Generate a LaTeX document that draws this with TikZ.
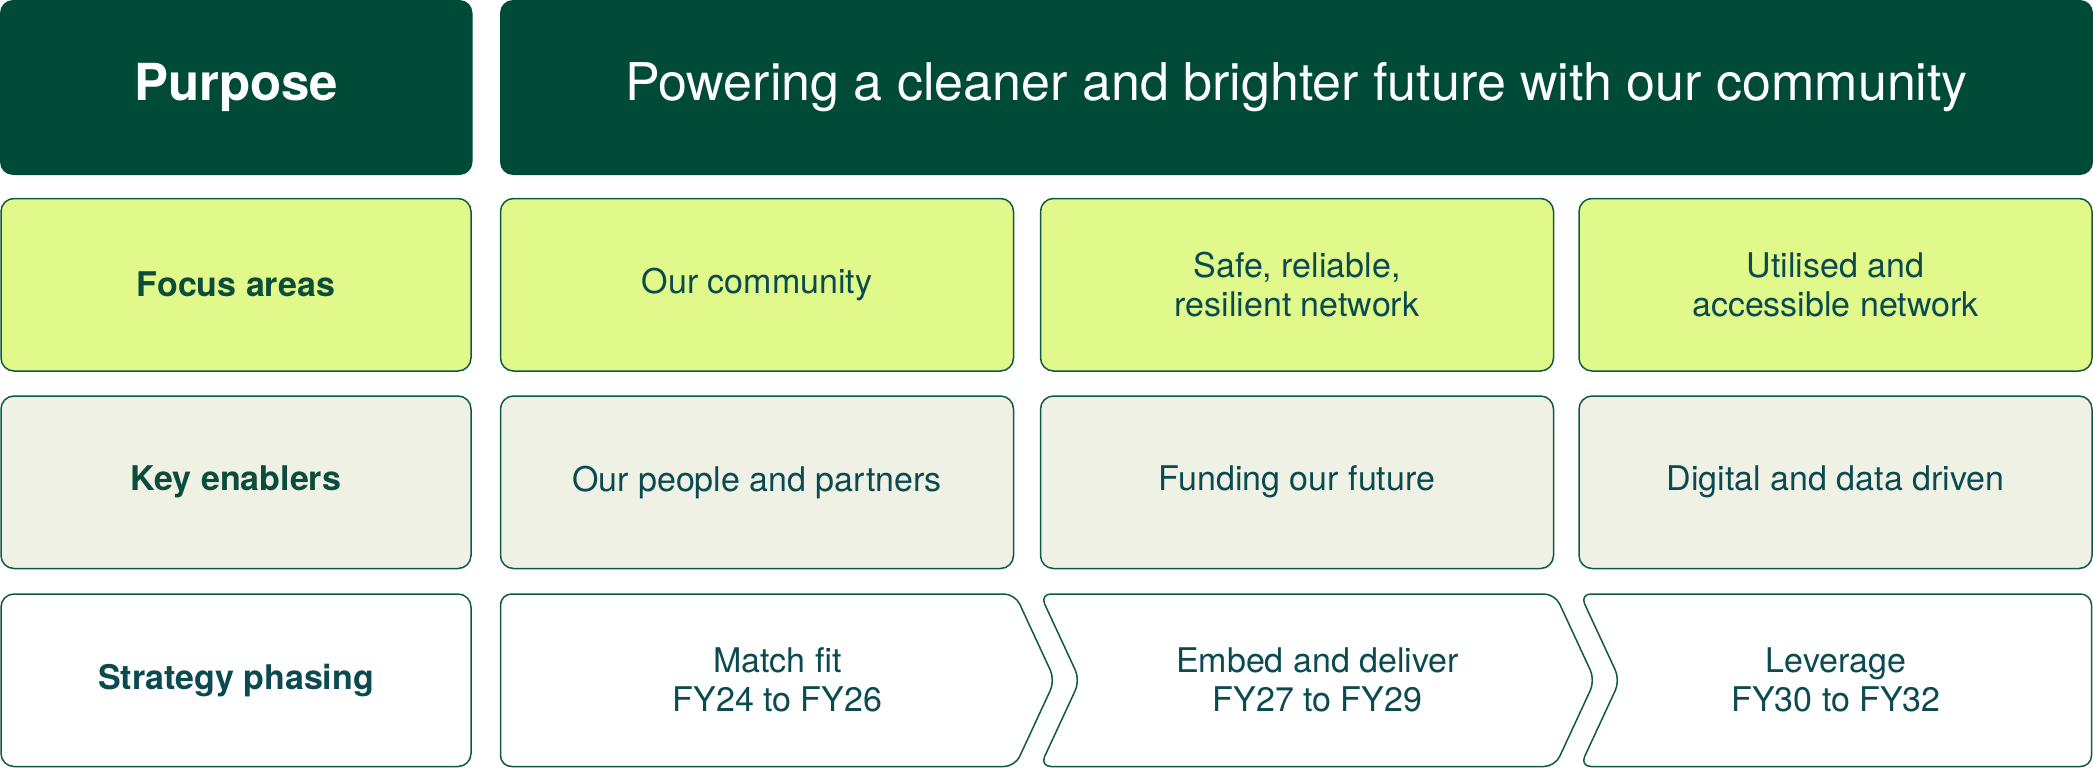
\documentclass[tikz,border=0pt]{standalone}
\usepackage{fontspec}
\setmainfont{TeX Gyre Heros}

\definecolor{deepgreen}{HTML}{004B37}
\definecolor{limefill}{HTML}{E0F98A}
\definecolor{mistfill}{HTML}{EFF1E4}
\definecolor{edgegreen}{HTML}{0E5A45}
\definecolor{inkgreen}{HTML}{0B4D3A}
\definecolor{inkteal}{HTML}{0A4A50}

\begin{document}
\begin{tikzpicture}[x=1pt,y=-1pt,
  banner/.style={fill=deepgreen, rounded corners=13pt, inner sep=0pt,
    minimum height=175pt, text=white, align=center},
  cell/.style={draw=edgegreen, line width=1.5pt, rounded corners=13pt,
    inner sep=0pt, minimum height=172.5pt, align=center, text=inkteal,
    font=\fontsize{34}{38.5}\selectfont},
  labelcell/.style={cell, minimum width=470pt, text=inkgreen,
    font=\fontsize{34}{38.5}\selectfont\bfseries},
  colcell/.style={cell, minimum width=513pt},
  focus/.style={fill=limefill},
  enabler/.style={fill=mistfill},
  phase/.style={align=center, text=inkteal, inner sep=0pt,
    font=\fontsize{34}{39}\selectfont},
  chevron/.style={draw=edgegreen, line width=1.5pt, fill=white,
    rounded corners=11pt}
]
\useasboundingbox (0,0) rectangle (2093,768);

% Row 1: purpose statement
\node[banner, minimum width=472.5pt, font=\fontsize{51}{58}\selectfont\bfseries]
  (purpose) at (236.25,87.5) {Purpose};
\node[banner, minimum width=1593pt, font=\fontsize{52}{60}\selectfont]
  (vision) at (1296.5,87.5) {Powering a cleaner and brighter future with our community};

% Row 2: focus areas
\node[labelcell, focus] (focus) at (236,284.75) {Focus areas};
\node[colcell, focus] (f1) at (757,284.75) {Our community};
\node[colcell, focus] (f2) at (1297,284.75) {Safe, reliable,\\resilient network};
\node[colcell, focus] (f3) at (1835.5,284.75) {Utilised and\\accessible network};

% Row 3: key enablers
\node[labelcell, enabler] (enablers) at (236,482.25) {Key enablers};
\node[colcell, enabler] (e1) at (757,482.25) {Our people and partners};
\node[colcell, enabler] (e2) at (1297,482.25) {Funding our future};
\node[colcell, enabler] (e3) at (1835.5,482.25) {Digital and data driven};

% Row 4: strategy phasing as a chain of chevrons
\node[labelcell, text=inkteal, fill=white] (phasing) at (236,680.25) {Strategy phasing};

\draw[chevron] (750,594) -- (1015,594) -- (1055,680.25) -- (1015,766.5)
  -- (500.5,766.5) -- (500.5,594) -- cycle;

\draw[chevron] (1300,594) -- (1555,594) -- (1595,680.25) -- (1555,766.5)
  -- (1040,766.5) -- (1080,680.25) -- (1040,594) -- cycle;

\draw[chevron] (1800,594) -- (2091.5,594) -- (2091.5,766.5) -- (1580,766.5)
  -- (1620,680.25) -- (1580,594) -- cycle;

\node[phase] (p1) at (777.5,680.25) {Match fit\\FY24 to FY26};
\node[phase] (p2) at (1317.5,680.25) {Embed and deliver\\FY27 to FY29};
\node[phase] (p3) at (1836,680.25) {Leverage\\FY30 to FY32};
\end{tikzpicture}
\end{document}
